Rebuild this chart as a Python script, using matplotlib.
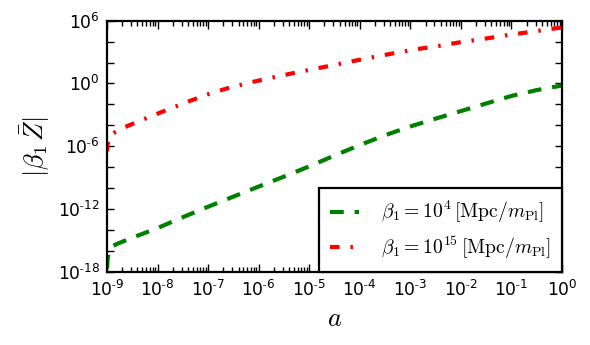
import numpy as np
import matplotlib
matplotlib.use("Agg")
import matplotlib.pyplot as plt
from matplotlib.ticker import FixedLocator, FuncFormatter, LogLocator, NullFormatter

# log10 of scale factor and of |beta_1 Zbar|
log_a_green = [-9.0, -8.99, -8.97, -8.9, -8.8, -8.5, -8.0, -7.5, -7.0, -6.5, -6.0, -5.5,
               -5.0, -4.5, -4.0, -3.5, -3.0, -2.5, -2.0, -1.5, -1.0, -0.5, 0.0]
log_z_green = [-17.7, -16.9, -16.2, -15.6, -15.35, -14.77, -13.84, -12.80, -11.80, -10.83,
               -9.87, -8.92, -7.94, -6.90, -5.90, -4.96, -4.12, -3.37, -2.65, -1.92,
               -1.20, -0.64, -0.20]

log_a_red = [-9.0, -8.99, -8.97, -8.9, -8.76, -8.33, -7.90, -7.45, -7.03, -6.58, -6.13,
             -5.68, -5.21, -4.76, -4.30, -3.84, -3.39, -2.93, -2.47, -2.01, -1.55, -1.09,
             -0.63, -0.17, 0.0]
log_z_red = [-6.5, -5.9, -5.3, -4.85, -4.41, -3.54, -2.70, -1.84, -1.08, -0.41, 0.13,
             0.61, 1.09, 1.52, 1.97, 2.42, 2.83, 3.24, 3.56, 3.94, 4.26, 4.61,
             4.92, 5.24, 5.35]

label_green = r'$\beta_1 = 10^{4}\,[\mathrm{Mpc}/m_{\mathrm{Pl}}]$'
label_red = r'$\beta_1 = 10^{15}\,[\mathrm{Mpc}/m_{\mathrm{Pl}}]$'

plt.rcParams['mathtext.fontset'] = 'cm'
plt.rcParams['axes.linewidth'] = 1.6

fig = plt.figure(figsize=(5.9, 3.45), dpi=100)
ax = fig.add_axes([0.1814, 0.213, 0.7711, 0.727])

ag = 10.0 ** np.array(log_a_green)
zg = 10.0 ** np.array(log_z_green)
ar = 10.0 ** np.array(log_a_red)
zr = 10.0 ** np.array(log_z_red)

ax.plot(ag, zg, color=(0, 0.5, 0), lw=3, ls=(0, (3.3, 2.6)), label=label_green)
ax.plot(ar, zr, color='red', lw=3, ls=(0, (2.3, 2.6, 0.6, 2.6)), label=label_red)

ax.set_xscale('log')
ax.set_yscale('log')
ax.set_xlim(1e-9, 1e0)
ax.set_ylim(1e-18, 1e6)


def fmt_exp(v, pos):
    e = int(round(np.log10(v)))
    if e < 0:
        return r'$\mathdefault{10^{\text{-}%d}}$' % (-e)
    return r'$\mathdefault{10^{%d}}$' % e


ax.xaxis.set_major_locator(FixedLocator([10.0 ** e for e in range(-9, 1)]))
ax.xaxis.set_minor_locator(LogLocator(base=10, subs=np.arange(2, 10), numticks=100))
ax.xaxis.set_minor_formatter(NullFormatter())
ax.xaxis.set_major_formatter(FuncFormatter(fmt_exp))

ax.yaxis.set_major_locator(FixedLocator([10.0 ** e for e in range(-18, 7, 2)]))
ax.yaxis.set_minor_locator(FixedLocator([]))


def fmt_y(v, pos):
    e = int(round(np.log10(v)))
    if e % 6 != 0:
        return ''
    return fmt_exp(v, pos)


ax.yaxis.set_major_formatter(FuncFormatter(fmt_y))

ax.tick_params(which='both', direction='in', top=True, right=True, labelsize=12.3,
               width=1.0, colors='black')
ax.tick_params(which='major', length=6)
ax.tick_params(which='minor', length=3.5)
ax.tick_params(axis='x', pad=6)
ax.tick_params(axis='y', pad=5)
ax.tick_params(axis='y', which='major', length=5)

ax.set_xlabel(r'$a$', fontsize=19, labelpad=4)
ax.set_ylabel(r'$|\beta_1\,\bar{Z}|$', fontsize=19, labelpad=4)

leg = ax.legend(loc='lower right', borderaxespad=0.0, fontsize=14.2, fancybox=False,
                handlelength=1.5, handletextpad=1.1, borderpad=0.55, labelspacing=0.45)
leg.get_frame().set_edgecolor('black')
leg.get_frame().set_linewidth(1.6)
leg.get_frame().set_alpha(1.0)

fig.savefig('out.png', dpi=100)
